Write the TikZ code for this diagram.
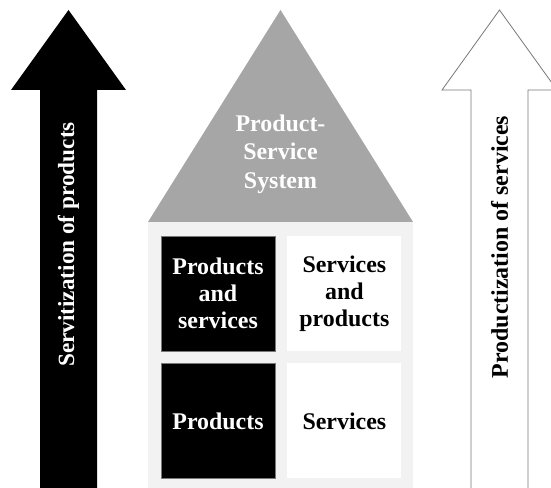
\documentclass[tikz,border=0pt]{standalone}
\usepackage{fontspec}
\setmainfont{Liberation Serif}
\usetikzlibrary{positioning}

\definecolor{roofgray}{RGB}{166,166,166}
\definecolor{wallgray}{RGB}{242,242,242}
\definecolor{linegray}{RGB}{120,120,120}

\tikzset{
    label text/.style={font=\fontsize{24}{27}\selectfont\bfseries, align=center},
    arrow text/.style={font=\fontsize{23.5}{27}\selectfont\bfseries, rotate=90},
    cell/.style={minimum width=114bp, minimum height=115bp, inner sep=0pt, label text},
    dark cell/.style={cell, fill=black, draw=linegray, line width=0.4pt, text=white},
    light cell/.style={cell, fill=white, text=black}
}

\begin{document}
\begin{tikzpicture}[x=1bp, y=1bp]
        \useasboundingbox (0,0) rectangle (551,488);
        \clip (0,0) rectangle (551,488);

        \fill[black] (40,0) -- (40,398) -- (11,398) -- (68.5,478) -- (126,398) -- (97,398) -- (97,0) -- cycle;
        \draw[linegray, fill=white, line width=0.8pt] (471,-1) -- (471,398) -- (442,398) -- (499.5,478) -- (557,398) -- (528,398) -- (528,-1);

        \fill[roofgray] (148,266) -- (280.5,478) -- (413,266) -- cycle;
        \fill[wallgray] (148,0) rectangle (413,266);

        \node[dark cell] (ProdServ) at (218,194.5) {Products\\and\\services};
        \node[light cell, right = 12bp of ProdServ] (ServProd) {Services\\and\\products};
        \node[dark cell, below = 12bp of ProdServ] (Prod) {Products};
        \node[light cell, below = 12bp of ServProd] (Serv) {Services};

        \node[label text, text=white, font=\fontsize{24}{28.5}\selectfont\bfseries] (PSS) at (280.5,334) {Product-\\Service\\System};
        \node[arrow text, text=white, font=\fontsize{23.3}{27}\selectfont\bfseries] (Servitization) at (68.5,243.5) {Servitization of products};
        \node[arrow text, font=\fontsize{24}{27}\selectfont\bfseries] (Productization) at (499.5,241) {Productization of services};
    \end{tikzpicture}
\end{document}
